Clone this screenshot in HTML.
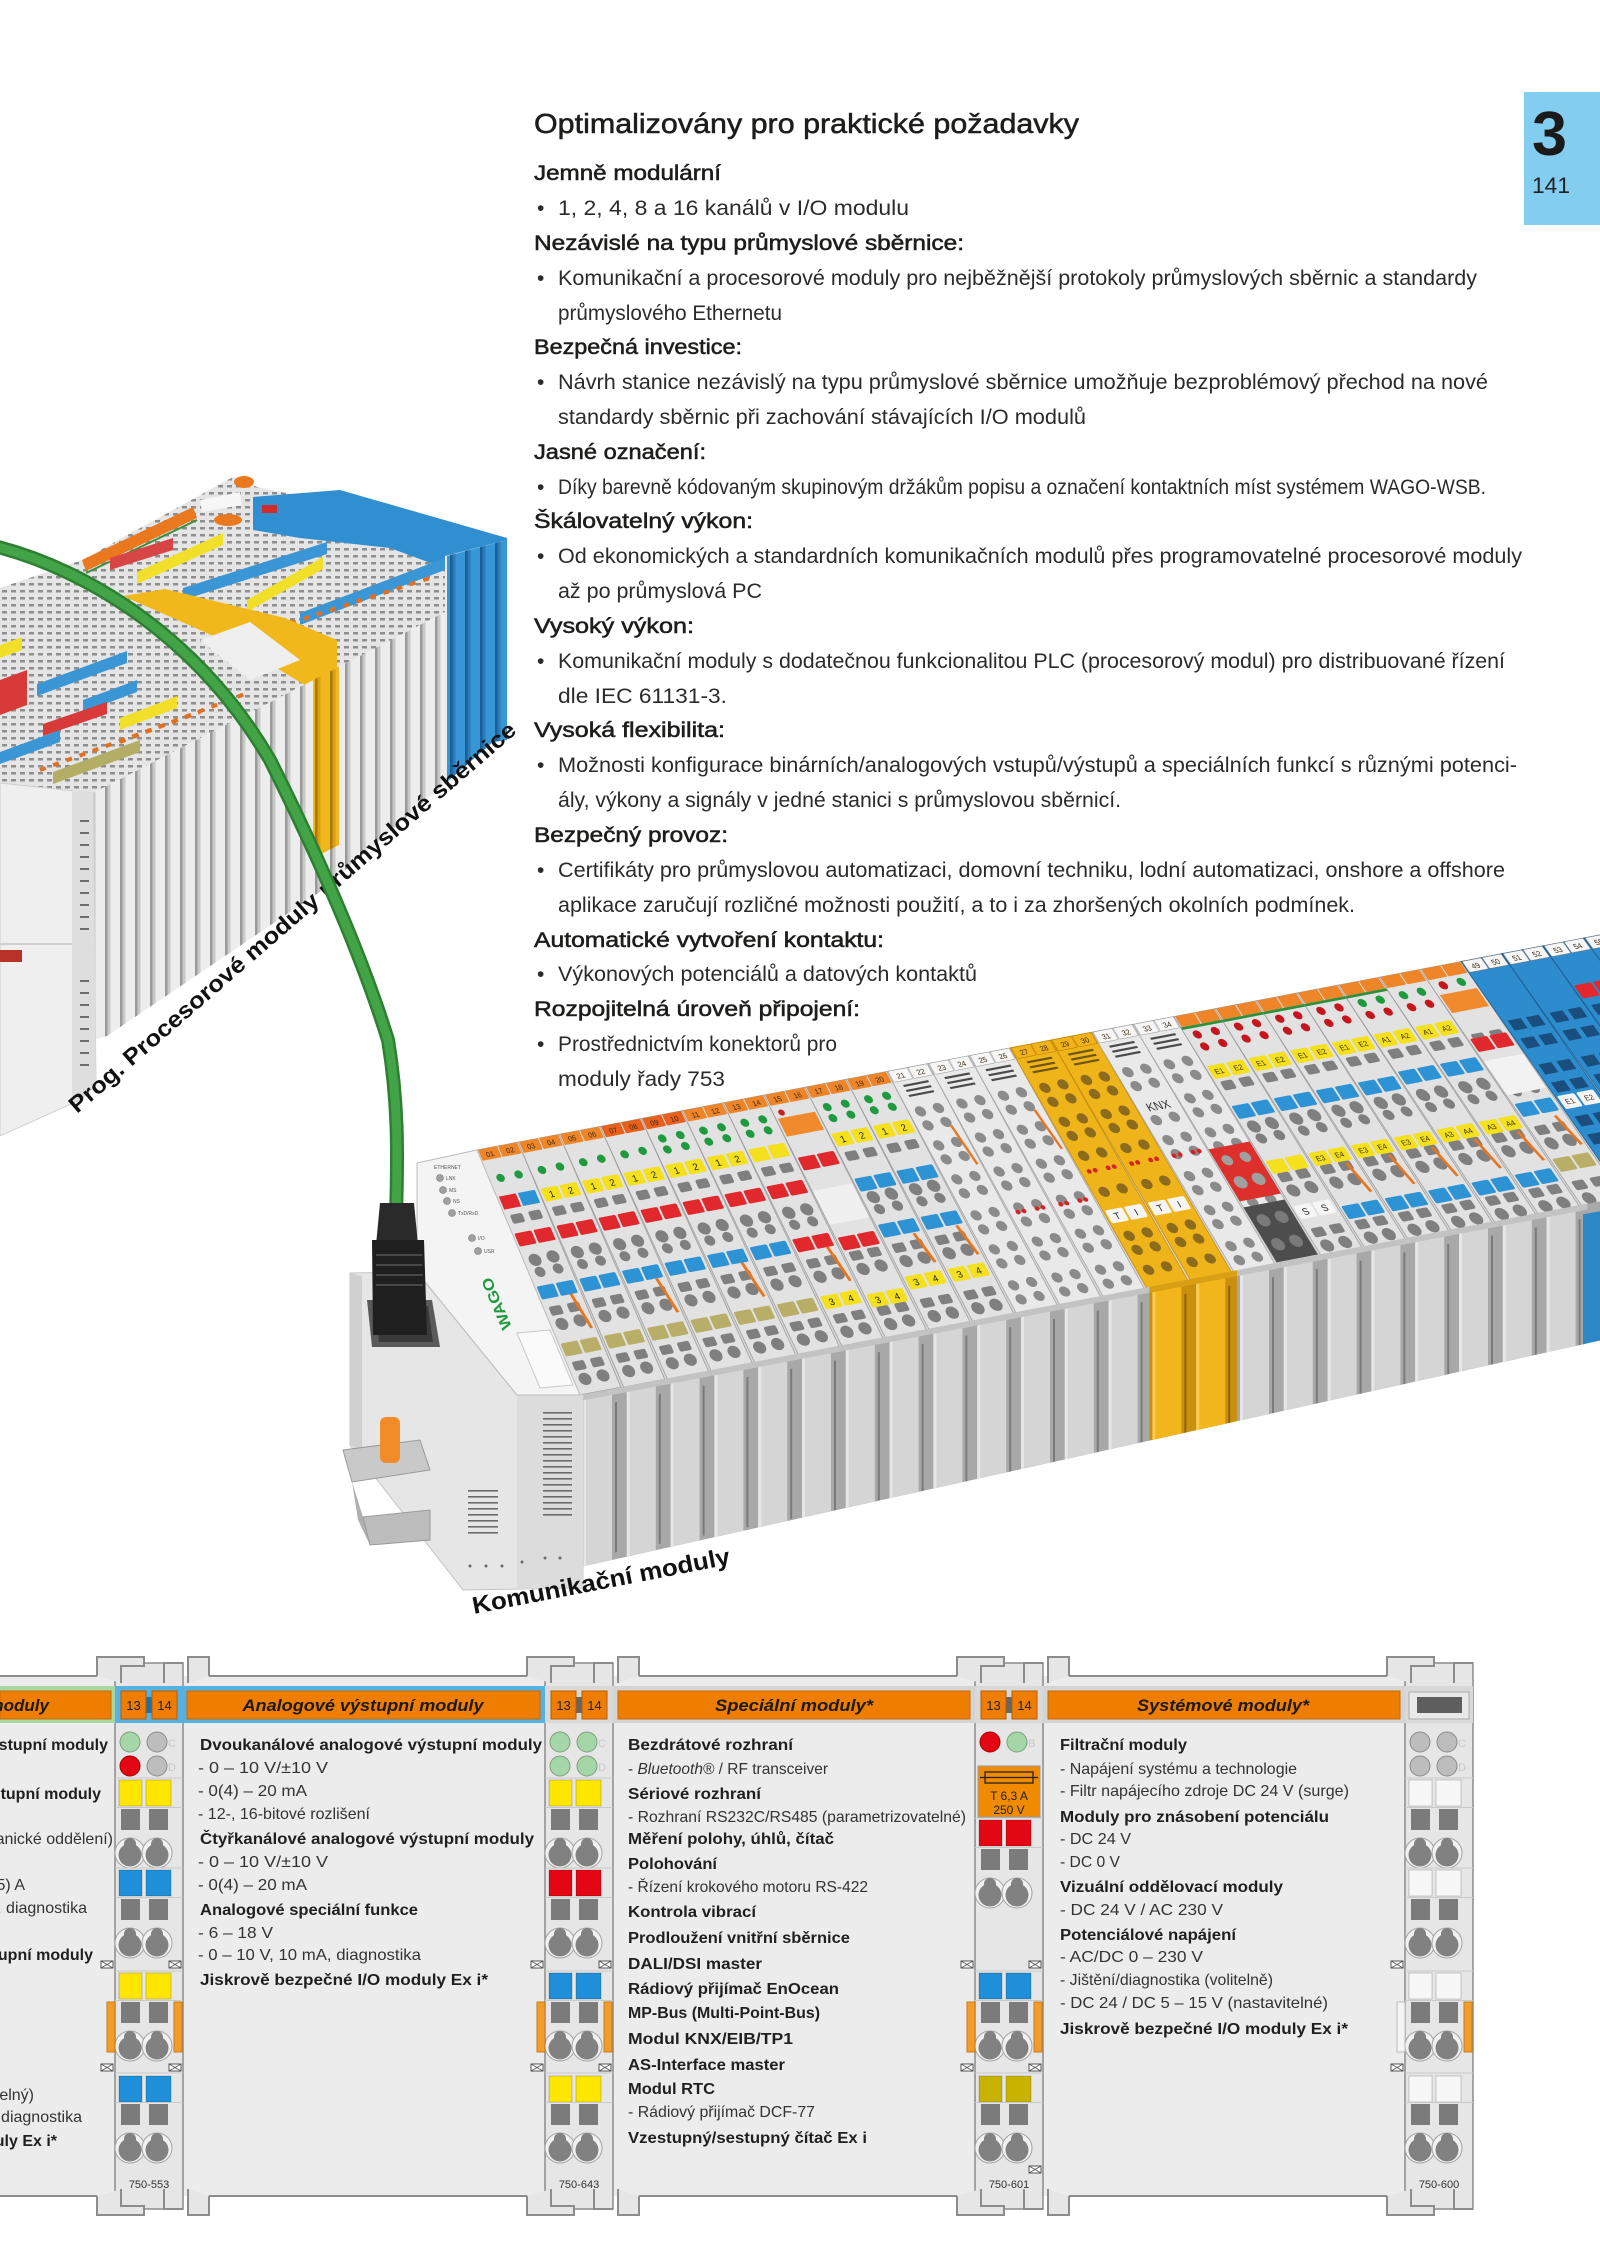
<!DOCTYPE html>
<html><head><meta charset="utf-8"><style>
html,body{margin:0;padding:0;background:#fff}
svg{display:block}
text{font-family:"Liberation Sans","DejaVu Sans",sans-serif}
.h{fill:#1d1d1b;stroke:#1d1d1b;stroke-width:.55}
.b{fill:#2b2b2b}
.lt{font-size:7px;text-anchor:middle;fill:#3a2a10}
.pt{font-size:9px;text-anchor:middle;fill:#222}
.ph{font-size:16px;font-weight:bold;fill:#1f1f1f}
.ps{font-size:16px;fill:#333}
.hd{font-size:17px;font-weight:bold;font-style:italic;fill:#1a1a1a}
.bx{font-size:13px;fill:#222;text-anchor:middle}
.ml{font-size:11px;fill:#333;text-anchor:middle}
.br{fill:#e6e6e6;stroke:#8c8c8c;stroke-width:2}
</style></head><body>
<svg xmlns="http://www.w3.org/2000/svg" width="1600" height="2263" viewBox="0 0 1600 2263">
<defs>
<pattern id="ldash" patternUnits="userSpaceOnUse" width="9" height="7"><rect width="9" height="7" fill="#e5e5e5"/><rect x="2" y="2" width="5" height="2.5" fill="#8e8e8e"/></pattern>
<pattern id="lrib" patternUnits="userSpaceOnUse" width="15" height="10"><rect width="15" height="10" fill="#ededed"/><rect width="2.5" height="10" fill="#9a9a9a"/><rect x="2.5" width="3" height="10" fill="#c9c9c9"/></pattern>
<pattern id="lribY" patternUnits="userSpaceOnUse" width="15" height="10"><rect width="15" height="10" fill="#f2b71c"/><rect width="2.5" height="10" fill="#a8780a"/><rect x="2.5" width="3" height="10" fill="#d89f12"/></pattern>
<pattern id="lribB" patternUnits="userSpaceOnUse" width="15" height="10"><rect width="15" height="10" fill="#3796d6"/><rect width="2.5" height="10" fill="#1b5f98"/><rect x="2.5" width="3" height="10" fill="#2a7bb8"/></pattern>

<g id="cA"><rect width="41" height="245" fill="#e2e2e2" stroke="#9e9e9e" stroke-width=".8"/><g fill="#7f7f7f"><rect x="5" y="66" width="12" height="9" rx="2"/><rect x="23" y="66" width="12" height="9" rx="2"/><circle cx="11" cy="112" r="6"/><circle cx="29" cy="112" r="6"/><circle cx="11" cy="124" r="5"/><circle cx="29" cy="124" r="5"/><rect x="5" y="158" width="12" height="9" rx="2"/><rect x="23" y="158" width="12" height="9" rx="2"/><circle cx="11" cy="176" r="6"/><circle cx="29" cy="176" r="6"/><rect x="5" y="213" width="12" height="9" rx="2"/><rect x="23" y="213" width="12" height="9" rx="2"/><circle cx="11" cy="231" r="6"/><circle cx="29" cy="231" r="6"/></g></g>
<g id="cG"><rect width="41" height="245" fill="#e9e9e9" stroke="#a6a6a6" stroke-width=".8"/><g fill="#4a4a4a"><rect x="8" y="15" width="25" height="2"/><rect x="8" y="20" width="25" height="2"/><rect x="8" y="25" width="25" height="2"/></g><g fill="#8b8b8b"><circle cx="11" cy="42" r="5"/><circle cx="29" cy="42" r="5"/><circle cx="11" cy="56" r="5"/><circle cx="29" cy="56" r="5"/><circle cx="11" cy="76" r="5"/><circle cx="29" cy="76" r="5"/><circle cx="11" cy="90" r="5"/><circle cx="29" cy="90" r="5"/><circle cx="11" cy="110" r="5"/><circle cx="29" cy="110" r="5"/><circle cx="11" cy="124" r="5"/><circle cx="29" cy="124" r="5"/><circle cx="11" cy="146" r="5"/><circle cx="29" cy="146" r="5"/><circle cx="11" cy="160" r="5"/><circle cx="29" cy="160" r="5"/><circle cx="11" cy="180" r="5"/><circle cx="29" cy="180" r="5"/><circle cx="11" cy="194" r="5"/><circle cx="29" cy="194" r="5"/><circle cx="11" cy="216" r="5"/><circle cx="29" cy="216" r="5"/><circle cx="11" cy="230" r="5"/><circle cx="29" cy="230" r="5"/></g></g>
<g id="cY"><rect width="41" height="245" fill="#f0b41b" stroke="#c48b0d" stroke-width=".8"/><g fill="#6e5410"><rect x="8" y="15" width="25" height="2"/><rect x="8" y="20" width="25" height="2"/><rect x="8" y="25" width="25" height="2"/></g><g fill="#8c6b1c"><circle cx="11" cy="42" r="5"/><circle cx="29" cy="42" r="5"/><circle cx="11" cy="56" r="5"/><circle cx="29" cy="56" r="5"/><circle cx="11" cy="76" r="5"/><circle cx="29" cy="76" r="5"/><circle cx="11" cy="90" r="5"/><circle cx="29" cy="90" r="5"/><circle cx="11" cy="110" r="5"/><circle cx="29" cy="110" r="5"/><circle cx="11" cy="146" r="5"/><circle cx="29" cy="146" r="5"/><circle cx="11" cy="190" r="5"/><circle cx="29" cy="190" r="5"/><circle cx="11" cy="204" r="5"/><circle cx="29" cy="204" r="5"/><circle cx="11" cy="224" r="5"/><circle cx="29" cy="224" r="5"/></g></g>
<g id="cB"><rect width="41" height="245" fill="#2d8ccd" stroke="#1a5b90" stroke-width=".8"/><g fill="#1a4e7e"><rect x="5" y="60" width="13" height="10"/><rect x="23" y="60" width="13" height="10"/><rect x="5" y="78" width="13" height="10"/><rect x="23" y="78" width="13" height="10"/><rect x="5" y="104" width="13" height="10"/><rect x="23" y="104" width="13" height="10"/><rect x="5" y="122" width="13" height="10"/><rect x="23" y="122" width="13" height="10"/><rect x="5" y="156" width="13" height="10"/><rect x="23" y="156" width="13" height="10"/><rect x="5" y="174" width="13" height="10"/><rect x="23" y="174" width="13" height="10"/><rect x="5" y="206" width="13" height="10"/><rect x="23" y="206" width="13" height="10"/><rect x="5" y="224" width="13" height="10"/><rect x="23" y="224" width="13" height="10"/></g></g>
<g id="lb"><rect x="1" y="0" width="19" height="11" rx="1"/><rect x="21" y="0" width="19" height="11" rx="1"/></g>
<g id="pr"><rect x="2" y="0" width="17" height="13" rx="1.5"/><rect x="21" y="0" width="17" height="13" rx="1.5"/></g>
<g id="l2"><circle cx="11" cy="0" r="4"/><circle cx="29" cy="0" r="4"/></g>
<g id="rd"><circle cx="8" cy="0" r="2.2"/><circle cx="14" cy="0" r="2.2"/><circle cx="27" cy="0" r="2.2"/><circle cx="33" cy="0" r="2.2"/></g>
<g id="rib"><rect width="43.8" height="180" fill="#a8a8a8"/><rect x="3" y="5" width="29" height="180" fill="#d5d5d5"/><rect x="3" y="5" width="3" height="180" fill="#e6e6e6"/><rect width="43.8" height="6" fill="#c3c3c3"/><rect x="35" y="14" width="2" height="150" fill="#7a7a7a"/></g>
<g id="ribY"><rect width="43.8" height="180" fill="#c8900e"/><rect x="3" y="5" width="29" height="180" fill="#f2b51c"/><rect x="3" y="5" width="3" height="180" fill="#f7cc55"/><rect width="43.8" height="6" fill="#d9a013"/><rect x="35" y="14" width="2" height="150" fill="#8a6208"/></g>
<clipPath id="ribclip"><polygon points="0,0 1030,0 1030,139 0,172"/></clipPath>

<g id="kh"><circle r="15" fill="#f1f1f1" stroke="#a3a3a3" stroke-width="1"/><circle cy="2" r="11.5" fill="#818181"/><circle cy="-9" r="6" fill="#818181"/><rect x="-6" y="-9" width="12" height="10" fill="#818181"/></g>
<g id="grp"><line x1="0" y1="-2" x2="68" y2="-2" stroke="#c9c9c9"/><line x1="0" y1="27.5" x2="68" y2="27.5" stroke="#c9c9c9"/><rect x="6" y="29" width="19" height="21" fill="#7b7b7b"/><rect x="34" y="29" width="19" height="21" fill="#7b7b7b"/><use href="#kh" x="15" y="73"/><use href="#kh" x="42" y="73"/></g>
<g id="cs"><rect x="4" y="0" width="23" height="26" stroke="#00000030"/><rect x="31" y="0" width="25" height="26" stroke="#00000030"/></g>
<g id="mk"><rect width="12" height="7" fill="#fff" stroke="#555" stroke-width="1"/><path d="M0,0 L12,7 M0,7 L12,0" stroke="#555" stroke-width=".8"/></g>
</defs>

<!-- ================= TOP TEXT ================= -->
<rect x="1524" y="92" width="76" height="133" fill="#83cdf0"/>
<text x="1532" y="155" font-size="62" font-weight="bold" fill="#1a1a1a" textLength="35" lengthAdjust="spacingAndGlyphs">3</text>
<text x="1532" y="193" font-size="22" fill="#222" textLength="38" lengthAdjust="spacingAndGlyphs">141</text>

<text class="h" x="534" y="133" font-size="28" textLength="545" lengthAdjust="spacingAndGlyphs">Optimalizovány pro praktické požadavky</text>
<g font-size="21">
<text class="h" x="534" y="180" textLength="187" lengthAdjust="spacingAndGlyphs">Jemně modulární</text>
<text class="b" x="537" y="215">•</text><text class="b" x="558" y="215" textLength="351" lengthAdjust="spacingAndGlyphs">1, 2, 4, 8 a 16 kanálů v I/O modulu</text>
<text class="h" x="534" y="250" textLength="430" lengthAdjust="spacingAndGlyphs">Nezávislé na typu průmyslové sběrnice:</text>
<text class="b" x="537" y="285">•</text><text class="b" x="558" y="285" textLength="919" lengthAdjust="spacingAndGlyphs">Komunikační a procesorové moduly pro nejběžnější protokoly průmyslových sběrnic a standardy</text>
<text class="b" x="558" y="320" textLength="224" lengthAdjust="spacingAndGlyphs">průmyslového Ethernetu</text>
<text class="h" x="534" y="354" textLength="208" lengthAdjust="spacingAndGlyphs">Bezpečná investice:</text>
<text class="b" x="537" y="389">•</text><text class="b" x="558" y="389" textLength="930" lengthAdjust="spacingAndGlyphs">Návrh stanice nezávislý na typu průmyslové sběrnice umožňuje bezproblémový přechod na nové</text>
<text class="b" x="558" y="424" textLength="528" lengthAdjust="spacingAndGlyphs">standardy sběrnic při zachování stávajících I/O modulů</text>
<text class="h" x="534" y="459" textLength="172" lengthAdjust="spacingAndGlyphs">Jasné označení:</text>
<text class="b" x="537" y="494">•</text><text class="b" x="558" y="494" textLength="928" lengthAdjust="spacingAndGlyphs">Díky barevně kódovaným skupinovým držákům popisu a označení kontaktních míst systémem WAGO-WSB.</text>
<text class="h" x="534" y="528" textLength="219" lengthAdjust="spacingAndGlyphs">Škálovatelný výkon:</text>
<text class="b" x="537" y="563">•</text><text class="b" x="558" y="563" textLength="964" lengthAdjust="spacingAndGlyphs">Od ekonomických a standardních komunikačních modulů přes programovatelné procesorové moduly</text>
<text class="b" x="558" y="598" textLength="204" lengthAdjust="spacingAndGlyphs">až po průmyslová PC</text>
<text class="h" x="534" y="633" textLength="160" lengthAdjust="spacingAndGlyphs">Vysoký výkon:</text>
<text class="b" x="537" y="668">•</text><text class="b" x="558" y="668" textLength="947" lengthAdjust="spacingAndGlyphs">Komunikační moduly s dodatečnou funkcionalitou PLC (procesorový modul) pro distribuované řízení</text>
<text class="b" x="558" y="703" textLength="169" lengthAdjust="spacingAndGlyphs">dle IEC 61131-3.</text>
<text class="h" x="534" y="737" textLength="191" lengthAdjust="spacingAndGlyphs">Vysoká flexibilita:</text>
<text class="b" x="537" y="772">•</text><text class="b" x="558" y="772" textLength="959" lengthAdjust="spacingAndGlyphs">Možnosti konfigurace binárních/analogových vstupů/výstupů a speciálních funkcí s různými potenci-</text>
<text class="b" x="558" y="807" textLength="563" lengthAdjust="spacingAndGlyphs">ály, výkony a signály v jedné stanici s průmyslovou sběrnicí.</text>
<text class="h" x="534" y="842" textLength="194" lengthAdjust="spacingAndGlyphs">Bezpečný provoz:</text>
<text class="b" x="537" y="877">•</text><text class="b" x="558" y="877" textLength="947" lengthAdjust="spacingAndGlyphs">Certifikáty pro průmyslovou automatizaci, domovní techniku, lodní automatizaci, onshore a offshore</text>
<text class="b" x="558" y="912" textLength="797" lengthAdjust="spacingAndGlyphs">aplikace zaručují rozličné možnosti použití, a to i za zhoršených okolních podmínek.</text>
<text class="h" x="534" y="947" textLength="350" lengthAdjust="spacingAndGlyphs">Automatické vytvoření kontaktu:</text>
<text class="b" x="537" y="981">•</text><text class="b" x="558" y="981" textLength="419" lengthAdjust="spacingAndGlyphs">Výkonových potenciálů a datových kontaktů</text>
<text class="h" x="534" y="1016" textLength="326" lengthAdjust="spacingAndGlyphs">Rozpojitelná úroveň připojení:</text>
<text class="b" x="537" y="1051">•</text><text class="b" x="558" y="1051" textLength="279" lengthAdjust="spacingAndGlyphs">Prostřednictvím konektorů pro</text>
<text class="b" x="558" y="1086" textLength="167" lengthAdjust="spacingAndGlyphs">moduly řady 753</text>
</g>

<!-- ================= LEFT PRODUCT ================= -->
<polygon points="0,588 82,560 233,477 257,487 507,538 507,546 445,560 445,612 333,670 93,793 0,783" fill="url(#ldash)"/>
<polygon points="82,560 193,507 197,518 86,571" fill="#e9781f"/>
<line x1="86" y1="573" x2="197" y2="520" stroke="#3d8c40" stroke-width="2"/>
<ellipse cx="244" cy="482" rx="10" ry="6" fill="#e9781f"/>
<ellipse cx="228" cy="520" rx="14" ry="6" fill="#e9781f"/>
<polygon points="200,500 240,492 242,505 202,512" fill="#f6f6f6"/>
<polygon points="253,497 340,490 507,538 507,552 455,572 390,548 300,538 253,530" fill="#2f8fd0"/>
<rect x="262" y="505" width="15" height="8" fill="#d02a2a"/>
<polygon points="110,558 173,538 173,550 110,570" fill="#d84545"/>
<polygon points="137,572 223,533 223,545 137,584" fill="#f2df2a"/>
<polygon points="183,588 327,542 327,554 183,600" fill="#3a96d5"/>
<polygon points="247,600 323,557 323,569 247,612" fill="#f2df2a"/>
<polygon points="300,613 445,558 445,570 300,625" fill="#3a96d5"/>
<line x1="250" y1="636" x2="430" y2="578" stroke="#e07020" stroke-width="4" stroke-dasharray="6 8"/>
<line x1="120" y1="742" x2="250" y2="692" stroke="#e07020" stroke-width="4" stroke-dasharray="6 8"/>
<line x1="40" y1="770" x2="200" y2="712" stroke="#e07020" stroke-width="4" stroke-dasharray="6 8"/>
<polygon points="123,596 165,589 285,618 337,640 337,692 313,690 255,655 200,630" fill="#f1b81b"/>
<polygon points="200,640 250,622 300,660 250,680" fill="#efefef"/>
<polygon points="37,684 127,651 127,663 37,696" fill="#3a96d5"/>
<polygon points="83,700 137,680 137,692 83,712" fill="#3a96d5"/>
<polygon points="43,724 107,702 107,714 43,736" fill="#d83a3a"/>
<polygon points="0,680 27,670 27,705 0,715" fill="#d83a3a"/>
<polygon points="120,718 177,696 177,708 120,730" fill="#f2df2a"/>
<polygon points="0,752 60,730 60,742 0,764" fill="#3a96d5"/>
<polygon points="53,772 140,740 140,752 53,784" fill="#b3ad66"/>
<polygon points="0,645 22,637 22,650 0,658" fill="#f2df2a"/>
<!-- ribs -->
<polygon points="93,793 333,670 445,612 445,556 507,540 507,740 493,742 321,891 107,1036 93,1040" fill="url(#lrib)"/>
<polygon points="313,680 339,667 339,845 313,858" fill="url(#lribY)"/>
<polygon points="447,556 507,540 507,740 493,742 447,782" fill="url(#lribB)"/>
<!-- housing -->
<polygon points="0,783 93,793 96,1085 80,1100 0,1136" fill="#efefef" stroke="#cfcfcf"/>
<polygon points="72,790 93,793 96,1085 80,1100 72,1102" fill="#dedede"/>
<g fill="#6d6d6d"><rect x="80" y="820" width="9" height="2"/><rect x="80" y="832" width="9" height="2"/><rect x="80" y="844" width="9" height="2"/><rect x="80" y="856" width="9" height="2"/><rect x="80" y="868" width="9" height="2"/><rect x="80" y="880" width="9" height="2"/><rect x="80" y="892" width="9" height="2"/><rect x="80" y="904" width="9" height="2"/><rect x="80" y="916" width="9" height="2"/><rect x="80" y="928" width="9" height="2"/><rect x="80" y="980" width="9" height="2"/><rect x="80" y="992" width="9" height="2"/><rect x="80" y="1004" width="9" height="2"/><rect x="80" y="1016" width="9" height="2"/><rect x="80" y="1028" width="9" height="2"/><rect x="80" y="1040" width="9" height="2"/><rect x="80" y="1052" width="9" height="2"/><rect x="80" y="1064" width="9" height="2"/></g>
<line x1="0" y1="944" x2="72" y2="944" stroke="#cfcfcf" stroke-width="2"/>
<rect x="0" y="950" width="22" height="12" fill="#b8322a"/>

<text transform="translate(77,1114) rotate(-40.9)" font-size="23" font-weight="bold" fill="#111" textLength="583" lengthAdjust="spacingAndGlyphs">Prog. Procesorové moduly průmyslové sběrnice</text>

<!-- ================= MAIN PRODUCT ================= -->
<polygon points="477,1150 1600,935 1600,1215 580,1395" fill="#d6d6d6"/>

<g transform="matrix(1,-0.1915,0.42,1,477,1150)"><use href="#cA"/><use href="#lb" fill="#ee8529"/><text class="lt" x="10.5" y="8.5">01</text><text class="lt" x="30.5" y="8.5">02</text><use href="#l2" y="30" fill="#1f9a3f"/><rect x="2" y="47" width="17" height="13" fill="#e0282d"/><rect x="21" y="47" width="17" height="13" fill="#2d93d4"/><use href="#pr" y="84" fill="#e0282d"/><use href="#pr" y="137" fill="#2d93d4"/><use href="#pr" y="194" fill="#b8ae67"/><line x1="31" y1="150" x2="37" y2="185" stroke="#e8761e" stroke-width="3"/></g>
<g transform="matrix(1,-0.1915,0.4315,1,518,1142.15)"><use href="#cA"/><use href="#lb" fill="#ee8529"/><text class="lt" x="10.5" y="8.5">03</text><text class="lt" x="30.5" y="8.5">04</text><use href="#l2" y="30" fill="#1f9a3f"/><use href="#pr" y="47" fill="#f4e01c"/><text class="pt" x="10.5" y="57">1</text><text class="pt" x="29.5" y="57">2</text><use href="#pr" y="84" fill="#e0282d"/><use href="#pr" y="137" fill="#2d93d4"/><use href="#pr" y="194" fill="#b8ae67"/></g>
<g transform="matrix(1,-0.1915,0.443,1,559,1134.3)"><use href="#cA"/><use href="#lb" fill="#ee8529"/><text class="lt" x="10.5" y="8.5">05</text><text class="lt" x="30.5" y="8.5">06</text><use href="#l2" y="30" fill="#1f9a3f"/><use href="#pr" y="47" fill="#f4e01c"/><text class="pt" x="10.5" y="57">1</text><text class="pt" x="29.5" y="57">2</text><use href="#pr" y="84" fill="#e0282d"/><use href="#pr" y="137" fill="#2d93d4"/><use href="#pr" y="194" fill="#b8ae67"/><line x1="31" y1="150" x2="37" y2="185" stroke="#e8761e" stroke-width="3"/></g>
<g transform="matrix(1,-0.1915,0.4545,1,600,1126.45)"><use href="#cA"/><use href="#lb" fill="#e8601e"/><text class="lt" x="10.5" y="8.5">07</text><text class="lt" x="30.5" y="8.5">08</text><use href="#l2" y="30" fill="#1f9a3f"/><use href="#pr" y="47" fill="#f4e01c"/><text class="pt" x="10.5" y="57">1</text><text class="pt" x="29.5" y="57">2</text><use href="#pr" y="84" fill="#e0282d"/><use href="#pr" y="137" fill="#2d93d4"/><use href="#pr" y="194" fill="#b8ae67"/></g>
<g transform="matrix(1,-0.1915,0.466,1,641,1118.6)"><use href="#cA"/><use href="#lb" fill="#e8601e"/><text class="lt" x="10.5" y="8.5">09</text><text class="lt" x="30.5" y="8.5">10</text><use href="#l2" y="22" fill="#1f9a3f"/><use href="#l2" y="33" fill="#1f9a3f"/><use href="#pr" y="47" fill="#f4e01c"/><text class="pt" x="10.5" y="57">1</text><text class="pt" x="29.5" y="57">2</text><use href="#pr" y="84" fill="#e0282d"/><use href="#pr" y="137" fill="#2d93d4"/><use href="#pr" y="194" fill="#b8ae67"/><line x1="31" y1="150" x2="37" y2="185" stroke="#e8761e" stroke-width="3"/></g>
<g transform="matrix(1,-0.1915,0.4775,1,682,1110.75)"><use href="#cA"/><use href="#lb" fill="#ee8529"/><text class="lt" x="10.5" y="8.5">11</text><text class="lt" x="30.5" y="8.5">12</text><use href="#l2" y="22" fill="#1f9a3f"/><use href="#l2" y="33" fill="#1f9a3f"/><use href="#pr" y="47" fill="#f4e01c"/><text class="pt" x="10.5" y="57">1</text><text class="pt" x="29.5" y="57">2</text><use href="#pr" y="84" fill="#e0282d"/><use href="#pr" y="137" fill="#2d93d4"/><use href="#pr" y="194" fill="#b8ae67"/></g>
<g transform="matrix(1,-0.1915,0.489,1,723,1102.9)"><use href="#cA"/><use href="#lb" fill="#ee8529"/><text class="lt" x="10.5" y="8.5">13</text><text class="lt" x="30.5" y="8.5">14</text><use href="#l2" y="22" fill="#1f9a3f"/><use href="#l2" y="33" fill="#1f9a3f"/><use href="#pr" y="47" fill="#f4e01c"/><use href="#pr" y="84" fill="#e0282d"/><use href="#pr" y="137" fill="#e0282d"/><use href="#pr" y="194" fill="#f4e01c"/><text class="pt" x="10.5" y="204">3</text><text class="pt" x="29.5" y="204">4</text><line x1="31" y1="150" x2="37" y2="185" stroke="#e8761e" stroke-width="3"/></g>
<g transform="matrix(1,-0.1915,0.5005,1,764,1095.05)"><use href="#cA"/><use href="#lb" fill="#ee8529"/><text class="lt" x="10.5" y="8.5">15</text><text class="lt" x="30.5" y="8.5">16</text><rect x="2" y="24" width="37" height="18" fill="#f08a2c"/><circle cx="8" cy="19" r="3" fill="#c81e1e"/><use href="#pr" y="63" fill="#e0282d"/><rect x="1" y="96" width="39" height="34" fill="#f0f0f0"/><use href="#pr" y="143" fill="#e0282d"/><use href="#pr" y="200" fill="#f4e01c"/><text class="pt" x="10.5" y="210">3</text><text class="pt" x="29.5" y="210">4</text></g>
<g transform="matrix(1,-0.1915,0.512,1,805,1087.2)"><use href="#cA"/><use href="#lb" fill="#ee8529"/><text class="lt" x="10.5" y="8.5">17</text><text class="lt" x="30.5" y="8.5">18</text><use href="#l2" y="22" fill="#1f9a3f"/><use href="#l2" y="33" fill="#1f9a3f"/><use href="#pr" y="47" fill="#f4e01c"/><text class="pt" x="10.5" y="57">1</text><text class="pt" x="29.5" y="57">2</text><use href="#pr" y="92" fill="#2d93d4"/><use href="#pr" y="138" fill="#2d93d4"/><use href="#pr" y="190" fill="#f4e01c"/><text class="pt" x="10.5" y="200">3</text><text class="pt" x="29.5" y="200">4</text><line x1="31" y1="152" x2="37" y2="182" stroke="#e8761e" stroke-width="3"/></g>
<g transform="matrix(1,-0.1915,0.5235,1,846,1079.35)"><use href="#cA"/><use href="#lb" fill="#ee8529"/><text class="lt" x="10.5" y="8.5">19</text><text class="lt" x="30.5" y="8.5">20</text><use href="#l2" y="22" fill="#1f9a3f"/><use href="#l2" y="33" fill="#1f9a3f"/><use href="#pr" y="47" fill="#f4e01c"/><text class="pt" x="10.5" y="57">1</text><text class="pt" x="29.5" y="57">2</text><use href="#pr" y="92" fill="#2d93d4"/><use href="#pr" y="138" fill="#2d93d4"/><use href="#pr" y="190" fill="#f4e01c"/><text class="pt" x="10.5" y="200">3</text><text class="pt" x="29.5" y="200">4</text><line x1="31" y1="152" x2="37" y2="182" stroke="#e8761e" stroke-width="3"/></g>
<g transform="matrix(1,-0.1915,0.535,1,887,1071.5)"><use href="#cG"/><use href="#lb" fill="#f6f6f6" stroke="#999" stroke-width=".5"/><text class="lt" x="10.5" y="8.5">21</text><text class="lt" x="30.5" y="8.5">22</text><line x1="32" y1="60" x2="37" y2="100" stroke="#e8761e" stroke-width="2.5"/></g>
<g transform="matrix(1,-0.1915,0.5465,1,928,1063.65)"><use href="#cG"/><use href="#lb" fill="#f6f6f6" stroke="#999" stroke-width=".5"/><text class="lt" x="10.5" y="8.5">23</text><text class="lt" x="30.5" y="8.5">24</text><use href="#rd" y="150" fill="#d62222"/></g>
<g transform="matrix(1,-0.1915,0.558,1,969,1055.8)"><use href="#cG"/><use href="#lb" fill="#f6f6f6" stroke="#999" stroke-width=".5"/><text class="lt" x="10.5" y="8.5">25</text><text class="lt" x="30.5" y="8.5">26</text><use href="#rd" y="150" fill="#d62222"/><line x1="32" y1="60" x2="37" y2="100" stroke="#e8761e" stroke-width="2.5"/></g>
<g transform="matrix(1,-0.1915,0.5695,1,1010,1047.95)"><use href="#cY"/><use href="#lb" fill="#f2b21a" stroke="#b07a00" stroke-width=".5"/><text class="lt" x="10.5" y="8.5">27</text><text class="lt" x="30.5" y="8.5">28</text><use href="#rd" y="125" fill="#d62222"/><use href="#pr" y="163" fill="#f6f6f6"/><text class="pt" x="10.5" y="173">T</text><text class="pt" x="29.5" y="173">I</text></g>
<g transform="matrix(1,-0.1915,0.581,1,1051,1040.1)"><use href="#cY"/><use href="#lb" fill="#f2b21a" stroke="#b07a00" stroke-width=".5"/><text class="lt" x="10.5" y="8.5">29</text><text class="lt" x="30.5" y="8.5">30</text><use href="#rd" y="125" fill="#d62222"/><use href="#pr" y="163" fill="#f6f6f6"/><text class="pt" x="10.5" y="173">T</text><text class="pt" x="29.5" y="173">I</text></g>
<g transform="matrix(1,-0.1915,0.5925,1,1092,1032.25)"><use href="#cG"/><use href="#lb" fill="#f6f6f6" stroke="#999" stroke-width=".5"/><text class="lt" x="10.5" y="8.5">31</text><text class="lt" x="30.5" y="8.5">32</text><rect x="4" y="68" width="33" height="16" fill="#e9e9e9"/><text x="20.5" y="81" font-size="11" text-anchor="middle" fill="#333">KNX</text><use href="#rd" y="125" fill="#d62222"/></g>
<g transform="matrix(1,-0.1915,0.604,1,1133,1024.4)"><use href="#cG"/><use href="#lb" fill="#f6f6f6" stroke="#999" stroke-width=".5"/><text class="lt" x="10.5" y="8.5">33</text><text class="lt" x="30.5" y="8.5">34</text><rect x="0" y="125" width="41" height="52" fill="#dd2f2c"/><g fill="#a0a0a0"><circle cx="11" cy="138" r="5"/><circle cx="29" cy="138" r="5"/><circle cx="11" cy="160" r="6"/><circle cx="29" cy="160" r="6"/></g><rect x="0" y="183" width="41" height="55" fill="#4d4d4d"/><g fill="#7a7a7a"><circle cx="11" cy="198" r="6"/><circle cx="29" cy="198" r="6"/><circle cx="11" cy="222" r="6"/><circle cx="29" cy="222" r="6"/></g></g>
<g transform="matrix(1,-0.1915,0.6155,1,1174,1016.55)"><use href="#cA"/><use href="#lb" fill="#ee8529"/><rect x="0" y="11" width="41" height="2.5" fill="#2f8f3c"/><use href="#l2" y="20" fill="#c4161c"/><use href="#l2" y="32" fill="#c4161c"/><use href="#pr" y="50" fill="#f4e01c"/><text class="lt" x="10.5" y="59">E1</text><text class="lt" x="29.5" y="59">E2</text><use href="#pr" y="90" fill="#2d93d4"/><use href="#pr" y="145" fill="#f4e01c"/><use href="#pr" y="190" fill="#f6f6f6"/><text class="pt" x="10.5" y="200">S</text><text class="pt" x="29.5" y="200">S</text></g>
<g transform="matrix(1,-0.1915,0.627,1,1215,1008.7)"><use href="#cA"/><use href="#lb" fill="#ee8529"/><rect x="0" y="11" width="41" height="2.5" fill="#2f8f3c"/><use href="#l2" y="20" fill="#c4161c"/><use href="#l2" y="32" fill="#c4161c"/><use href="#pr" y="50" fill="#f4e01c"/><text class="lt" x="10.5" y="59">E1</text><text class="lt" x="29.5" y="59">E2</text><use href="#pr" y="90" fill="#2d93d4"/><use href="#pr" y="145" fill="#f4e01c"/><text class="lt" x="10.5" y="154">E3</text><text class="lt" x="29.5" y="154">E4</text><use href="#pr" y="198" fill="#2d93d4"/><line x1="31" y1="160" x2="37" y2="190" stroke="#e8761e" stroke-width="3"/></g>
<g transform="matrix(1,-0.1915,0.6385,1,1256,1000.85)"><use href="#cA"/><use href="#lb" fill="#ee8529"/><rect x="0" y="11" width="41" height="2.5" fill="#2f8f3c"/><use href="#l2" y="20" fill="#c4161c"/><use href="#l2" y="32" fill="#c4161c"/><use href="#pr" y="50" fill="#f4e01c"/><text class="lt" x="10.5" y="59">E1</text><text class="lt" x="29.5" y="59">E2</text><use href="#pr" y="90" fill="#2d93d4"/><use href="#pr" y="145" fill="#f4e01c"/><text class="lt" x="10.5" y="154">E3</text><text class="lt" x="29.5" y="154">E4</text><use href="#pr" y="198" fill="#2d93d4"/><line x1="31" y1="160" x2="37" y2="190" stroke="#e8761e" stroke-width="3"/></g>
<g transform="matrix(1,-0.1915,0.65,1,1297,993)"><use href="#cA"/><use href="#lb" fill="#ee8529"/><rect x="0" y="11" width="41" height="2.5" fill="#2f8f3c"/><use href="#l2" y="20" fill="#c4161c"/><use href="#l2" y="32" fill="#c4161c"/><use href="#pr" y="50" fill="#f4e01c"/><text class="lt" x="10.5" y="59">E1</text><text class="lt" x="29.5" y="59">E2</text><use href="#pr" y="90" fill="#2d93d4"/><use href="#pr" y="145" fill="#f4e01c"/><text class="lt" x="10.5" y="154">E3</text><text class="lt" x="29.5" y="154">E4</text><use href="#pr" y="198" fill="#2d93d4"/><line x1="31" y1="160" x2="37" y2="190" stroke="#e8761e" stroke-width="3"/></g>
<g transform="matrix(1,-0.1915,0.6615,1,1338,985.15)"><use href="#cA"/><use href="#lb" fill="#ee8529"/><rect x="0" y="11" width="41" height="2.5" fill="#2f8f3c"/><use href="#l2" y="20" fill="#1f9a3f"/><use href="#l2" y="32" fill="#c4161c"/><use href="#pr" y="50" fill="#f4e01c"/><text class="lt" x="10.5" y="59">A1</text><text class="lt" x="29.5" y="59">A2</text><use href="#pr" y="87" fill="#2d93d4"/><use href="#pr" y="145" fill="#f4e01c"/><text class="lt" x="10.5" y="154">A3</text><text class="lt" x="29.5" y="154">A4</text><use href="#pr" y="198" fill="#2d93d4"/><line x1="31" y1="160" x2="37" y2="190" stroke="#e8761e" stroke-width="3"/></g>
<g transform="matrix(1,-0.1915,0.673,1,1379,977.3)"><use href="#cA"/><use href="#lb" fill="#ee8529"/><use href="#l2" y="20" fill="#1f9a3f"/><use href="#l2" y="32" fill="#c4161c"/><use href="#pr" y="50" fill="#f4e01c"/><text class="lt" x="10.5" y="59">A1</text><text class="lt" x="29.5" y="59">A2</text><use href="#pr" y="87" fill="#2d93d4"/><use href="#pr" y="145" fill="#f4e01c"/><text class="lt" x="10.5" y="154">A3</text><text class="lt" x="29.5" y="154">A4</text><use href="#pr" y="198" fill="#2d93d4"/><line x1="31" y1="160" x2="37" y2="190" stroke="#e8761e" stroke-width="3"/></g>
<g transform="matrix(1,-0.1915,0.6845,1,1420,969.45)"><use href="#cA"/><use href="#lb" fill="#ee8529"/><circle cx="11" cy="18" r="4" fill="#c4161c"/><circle cx="29" cy="18" r="4" fill="#1f9a3f"/><rect x="2" y="26" width="37" height="18" fill="#f08a2c"/><use href="#pr" y="70" fill="#e0282d"/><rect x="1" y="92" width="39" height="34" fill="#f2f2f2"/><use href="#pr" y="135" fill="#2d93d4"/><use href="#pr" y="190" fill="#b8ae67"/><line x1="31" y1="152" x2="37" y2="182" stroke="#e8761e" stroke-width="3"/></g>
<g transform="matrix(1,-0.1915,0.696,1,1461,961.6)"><use href="#cB"/><use href="#lb" fill="#f6f6f6" stroke="#777" stroke-width=".5"/><text class="lt" x="10.5" y="8.5">49</text><text class="lt" x="30.5" y="8.5">50</text><use href="#pr" y="135" fill="#f6f6f6"/><text class="lt" x="10.5" y="144">E1</text><text class="lt" x="29.5" y="144">E2</text></g>
<g transform="matrix(1,-0.1915,0.7075,1,1502,953.75)"><use href="#cB"/><use href="#lb" fill="#f6f6f6" stroke="#777" stroke-width=".5"/><text class="lt" x="10.5" y="8.5">51</text><text class="lt" x="30.5" y="8.5">52</text></g>
<g transform="matrix(1,-0.1915,0.719,1,1543,945.9)"><use href="#cB"/><use href="#lb" fill="#f6f6f6" stroke="#777" stroke-width=".5"/><text class="lt" x="10.5" y="8.5">53</text><text class="lt" x="30.5" y="8.5">54</text><use href="#pr" y="40" fill="#e0282d"/></g>
<g transform="matrix(1,-0.1915,0.7305,1,1584,938.05)"><use href="#cB"/><use href="#lb" fill="#f6f6f6" stroke="#777" stroke-width=".5"/><text class="lt" x="10.5" y="8.5">55</text><text class="lt" x="30.5" y="8.5">56</text><use href="#pr" y="40" fill="#e0282d"/></g>

<!-- ribs -->
<g transform="matrix(1,-0.19,0,1,580,1395)"><g clip-path="url(#ribclip)">
<polygon points="0,0 1030,0 1030,139 0,172" fill="#a9a9a9"/>
<use href="#rib" x="0"/><use href="#rib" x="43.8"/><use href="#rib" x="87.6"/><use href="#rib" x="131.4"/><use href="#rib" x="175.2"/><use href="#rib" x="219"/><use href="#rib" x="262.8"/><use href="#rib" x="306.6"/><use href="#rib" x="350.4"/><use href="#rib" x="394.2"/><use href="#rib" x="438"/><use href="#rib" x="481.8"/><use href="#rib" x="525.6"/><use href="#ribY" x="569.4"/><use href="#ribY" x="613.2"/><use href="#rib" x="657"/><use href="#rib" x="700.8"/><use href="#rib" x="744.6"/><use href="#rib" x="788.4"/><use href="#rib" x="832.2"/><use href="#rib" x="876"/><use href="#rib" x="919.8"/><use href="#rib" x="963.6"/>
<rect x="1003" y="10" width="40" height="140" fill="#2b87c6"/>
</g></g>

<!-- coupler -->
<polygon points="350,1273 417,1272 517,1395 583,1395 583,1588 463,1590 350,1445" fill="#e6e6e6" stroke="#c4c4c4"/>
<polygon points="350,1273 362,1276 362,1450 350,1445" fill="#d0d0d0"/>
<polygon points="517,1395 583,1395 583,1588 517,1589" fill="#dcdcdc"/>
<g fill="#6a6a6a"><rect x="543" y="1412" width="29" height="1.6"/><rect x="543" y="1418" width="29" height="1.6"/><rect x="543" y="1424" width="29" height="1.6"/><rect x="543" y="1430" width="29" height="1.6"/><rect x="543" y="1436" width="29" height="1.6"/><rect x="543" y="1442" width="29" height="1.6"/><rect x="543" y="1448" width="29" height="1.6"/><rect x="543" y="1454" width="29" height="1.6"/><rect x="543" y="1460" width="29" height="1.6"/><rect x="543" y="1466" width="29" height="1.6"/><rect x="543" y="1472" width="29" height="1.6"/><rect x="543" y="1478" width="29" height="1.6"/><rect x="543" y="1484" width="29" height="1.6"/><rect x="543" y="1490" width="29" height="1.6"/><rect x="543" y="1496" width="29" height="1.6"/><rect x="543" y="1502" width="29" height="1.6"/><rect x="543" y="1508" width="29" height="1.6"/><rect x="543" y="1514" width="29" height="1.6"/><rect x="468" y="1490" width="30" height="1.6"/><rect x="468" y="1496" width="30" height="1.6"/><rect x="468" y="1502" width="30" height="1.6"/><rect x="468" y="1508" width="30" height="1.6"/><rect x="468" y="1514" width="30" height="1.6"/><rect x="468" y="1520" width="30" height="1.6"/><rect x="468" y="1526" width="30" height="1.6"/><rect x="468" y="1532" width="30" height="1.6"/><circle cx="470" cy="1566" r="1.5"/><circle cx="486" cy="1566" r="1.5"/><circle cx="502" cy="1566" r="1.5"/><circle cx="522" cy="1562" r="1.5"/><circle cx="545" cy="1558" r="1.5"/><circle cx="560" cy="1558" r="1.5"/></g>
<polygon points="417,1163 477,1150 580,1395 517,1395 417,1272" fill="#f4f4f4" stroke="#bdbdbd"/>
<g fill="#a0a0a0" stroke="#777" stroke-width=".6"><circle cx="440" cy="1178" r="3.5"/><circle cx="443" cy="1190" r="3.5"/><circle cx="447" cy="1201" r="3.5"/><circle cx="452" cy="1213" r="3.5"/><circle cx="472" cy="1238" r="3.5"/><circle cx="478" cy="1251" r="3.5"/></g>
<g font-size="5" fill="#555"><text x="434" y="1169">ETHERNET</text><text x="446" y="1180">LNK</text><text x="449" y="1192">MS</text><text x="453" y="1203">NS</text><text x="458" y="1215">TxD/RxD</text><text x="478" y="1240">I/O</text><text x="484" y="1253">USR</text></g>
<text transform="translate(512,1327) rotate(-112.8)" font-size="15" font-weight="bold" fill="#1f9a3f" textLength="55" lengthAdjust="spacingAndGlyphs">WAGO</text>
<polygon points="517,1333 550,1330 573,1385 540,1388" fill="#fafafa" stroke="#c8c8c8"/>
<polygon points="367,1300 432,1300 440,1347 372,1347" fill="#5a5a5a"/>
<polygon points="375,1306 428,1306 433,1342 379,1342" fill="#3a3a3a"/>
<polygon points="343,1450 420,1440 430,1470 352,1482" fill="#c9c9c9" stroke="#999"/>
<polygon points="352,1482 363,1517 370,1545 358,1520" fill="#b0b0b0"/>
<polygon points="363,1517 430,1510 430,1540 370,1545" fill="#bdbdbd" stroke="#999"/>
<rect x="380" y="1417" width="20" height="46" rx="6" fill="#f28c28"/>

<!-- cable & plug -->
<path d="M-6,546 C90,570 200,640 270,760 C315,850 360,950 388,1040 C398,1100 398,1150 396,1215" stroke="#2d7f32" stroke-width="14" fill="none"/>
<path d="M-6,546 C90,570 200,640 270,760 C315,850 360,950 388,1040 C398,1100 398,1150 396,1215" stroke="#43a447" stroke-width="9" fill="none"/>
<polygon points="380,1203 414,1203 418,1245 376,1245" fill="#2a2a2a"/>
<polygon points="372,1240 424,1240 427,1335 373,1335" fill="#1f1f1f"/>
<g stroke="#474747" stroke-width="2"><line x1="376" y1="1255" x2="422" y2="1255"/><line x1="376" y1="1265" x2="422" y2="1265"/><line x1="376" y1="1275" x2="423" y2="1275"/><line x1="376" y1="1285" x2="423" y2="1285"/></g>

<text transform="translate(474,1614) rotate(-11)" font-size="24" font-weight="bold" fill="#111" textLength="262" lengthAdjust="spacingAndGlyphs">Komunikační moduly</text>

<!-- ================= BOTTOM DIAGRAM ================= -->
<g fill="#ececec"><rect x="0" y="1676" width="115" height="520"/><rect x="183" y="1676" width="362" height="520"/><rect x="613" y="1676" width="362" height="520"/><rect x="1043" y="1676" width="362" height="520"/></g>
<g stroke="#8c8c8c" stroke-width="2"><line x1="0" y1="1676" x2="97" y2="1676"/><line x1="0" y1="2196" x2="97" y2="2196"/><line x1="209" y1="1676" x2="527" y2="1676"/><line x1="209" y1="2196" x2="527" y2="2196"/><line x1="639" y1="1676" x2="957" y2="1676"/><line x1="639" y1="2196" x2="957" y2="2196"/><line x1="1069" y1="1676" x2="1387" y2="1676"/><line x1="1069" y1="2196" x2="1387" y2="2196"/></g>
<g fill="#e6e6e6" stroke="#8c8c8c" stroke-width="1.5"><rect x="115" y="1663" width="68" height="546"/><rect x="545" y="1663" width="68" height="546"/><rect x="975" y="1663" width="68" height="546"/><rect x="1405" y="1663" width="68" height="546"/></g>
<!-- brackets -->
<g class="br">
<path d="M97,1676 V1657 H144 V1666 H121 V1683"/><path d="M164,1683 V1663 H183"/><path d="M188,1683 V1657 H209 V1676"/>
<path d="M97,2196 V2215 H144 V2206 H121 V2189"/><path d="M164,2189 V2209 H183"/><path d="M188,2189 V2215 H209 V2196"/>
<path d="M527,1676 V1657 H574 V1666 H551 V1683"/><path d="M594,1683 V1663 H613"/><path d="M618,1683 V1657 H639 V1676"/>
<path d="M527,2196 V2215 H574 V2206 H551 V2189"/><path d="M594,2189 V2209 H613"/><path d="M618,2189 V2215 H639 V2196"/>
<path d="M957,1676 V1657 H1004 V1666 H981 V1683"/><path d="M1024,1683 V1663 H1043"/><path d="M1048,1683 V1657 H1069 V1676"/>
<path d="M957,2196 V2215 H1004 V2206 H981 V2189"/><path d="M1024,2189 V2209 H1043"/><path d="M1048,2189 V2215 H1069 V2196"/>
<path d="M1387,1676 V1657 H1434 V1666 H1411 V1683"/><path d="M1454,1683 V1663 H1473"/>
<path d="M1387,2196 V2215 H1434 V2206 H1411 V2189"/><path d="M1454,2189 V2209 H1473"/>
</g>
<!-- headers -->
<rect x="0" y="1686" width="115" height="37" fill="#a9d7a4"/><rect x="0" y="1691" width="111" height="28" fill="#ef7d00" stroke="#c86a00"/>
<rect x="115" y="1686" width="68" height="37" fill="#56b1e3"/><rect x="183" y="1686" width="362" height="37" fill="#56b1e3"/><rect x="187" y="1691" width="353" height="28" fill="#ef7d00" stroke="#c86a00"/>
<rect x="545" y="1686" width="68" height="37" fill="#d9d9d9"/><rect x="613" y="1686" width="362" height="37" fill="#d4d4d4"/><rect x="618" y="1691" width="352" height="28" fill="#ef7d00" stroke="#c86a00"/>
<rect x="975" y="1686" width="68" height="37" fill="#d9d9d9"/><rect x="1043" y="1686" width="362" height="37" fill="#d4d4d4"/><rect x="1048" y="1691" width="352" height="28" fill="#ef7d00" stroke="#c86a00"/>
<rect x="1405" y="1686" width="68" height="37" fill="#d9d9d9"/><rect x="1409" y="1692" width="60" height="27" fill="#e9e9e9" stroke="#aaa"/><rect x="1417" y="1697" width="45" height="16" fill="#5e5e5e"/>
<g><rect x="146" y="1697" width="6" height="16" fill="#1f6fa8"/><rect x="576" y="1697" width="6" height="16" fill="#666"/><rect x="1006" y="1697" width="6" height="16" fill="#666"/></g>
<g fill="#ef7d00" stroke="#b85c00"><rect x="121" y="1691" width="25" height="28"/><rect x="152" y="1691" width="25" height="28"/><rect x="551" y="1691" width="25" height="28"/><rect x="582" y="1691" width="25" height="28"/><rect x="981" y="1691" width="25" height="28"/><rect x="1012" y="1691" width="25" height="28"/></g>
<g class="bx"><text x="133.5" y="1710">13</text><text x="164.5" y="1710">14</text><text x="563.5" y="1710">13</text><text x="594.5" y="1710">14</text><text x="993.5" y="1710">13</text><text x="1024.5" y="1710">14</text></g>
<text class="hd" x="49" y="1711" text-anchor="end">Analogové vstupní moduly</text>
<text class="hd" x="363" y="1711" text-anchor="middle" textLength="241" lengthAdjust="spacingAndGlyphs">Analogové výstupní moduly</text>
<text class="hd" x="794" y="1711" text-anchor="middle" textLength="158" lengthAdjust="spacingAndGlyphs">Speciální moduly*</text>
<text class="hd" x="1223" y="1711" text-anchor="middle" textLength="172" lengthAdjust="spacingAndGlyphs">Systémové moduly*</text>

<!-- panel 1 fragments -->
<text class="ph" x="108" y="1750" text-anchor="end">Dvoukanálové analogové vstupní moduly</text>
<text class="ph" x="101" y="1799" text-anchor="end">Čtyřkanálové analogové vstupní moduly</text>
<text class="ps" x="113" y="1844" text-anchor="end">- 0(4) – 20 mA (galvanické oddělení)</text>
<text class="ps" x="25" y="1890" text-anchor="end">- 0 – 1 A, ±(5) A</text>
<text class="ps" x="87" y="1913" text-anchor="end">- 0 – 10 V, diagnostika</text>
<text class="ph" x="93" y="1960" text-anchor="end">Osmikanálové analogové vstupní moduly</text>
<text class="ps" x="34" y="2100" text-anchor="end">- Pt100 (nastavitelný)</text>
<text class="ps" x="82" y="2122" text-anchor="end">- 0 – 10 V, diagnostika</text>
<text class="ph" x="57" y="2146" text-anchor="end">Jiskrově bezpečné I/O moduly Ex i*</text>

<!-- panel 2 -->
<text class="ph" x="200" y="1750" textLength="342" lengthAdjust="spacingAndGlyphs">Dvoukanálové analogové výstupní moduly</text>
<text class="ps" x="198" y="1773" textLength="130" lengthAdjust="spacingAndGlyphs">- 0 – 10 V/±10 V</text>
<text class="ps" x="198" y="1796" textLength="109" lengthAdjust="spacingAndGlyphs">- 0(4) – 20 mA</text>
<text class="ps" x="198" y="1819" textLength="172" lengthAdjust="spacingAndGlyphs">- 12-, 16-bitové rozlišení</text>
<text class="ph" x="200" y="1844" textLength="334" lengthAdjust="spacingAndGlyphs">Čtyřkanálové analogové výstupní moduly</text>
<text class="ps" x="198" y="1867" textLength="130" lengthAdjust="spacingAndGlyphs">- 0 – 10 V/±10 V</text>
<text class="ps" x="198" y="1890" textLength="109" lengthAdjust="spacingAndGlyphs">- 0(4) – 20 mA</text>
<text class="ph" x="200" y="1915" textLength="218" lengthAdjust="spacingAndGlyphs">Analogové speciální funkce</text>
<text class="ps" x="198" y="1938" textLength="75" lengthAdjust="spacingAndGlyphs">- 6 – 18 V</text>
<text class="ps" x="198" y="1960" textLength="223" lengthAdjust="spacingAndGlyphs">- 0 – 10 V, 10 mA, diagnostika</text>
<text class="ph" x="200" y="1985" textLength="288" lengthAdjust="spacingAndGlyphs">Jiskrově bezpečné I/O moduly Ex i*</text>

<!-- panel 3 -->
<text class="ph" x="628" y="1750" textLength="165" lengthAdjust="spacingAndGlyphs">Bezdrátové rozhraní</text>
<text class="ps" x="628" y="1774" textLength="200" lengthAdjust="spacingAndGlyphs">- <tspan font-style="italic">Bluetooth®</tspan> / RF transceiver</text>
<text class="ph" x="628" y="1799" textLength="133" lengthAdjust="spacingAndGlyphs">Sériové rozhraní</text>
<text class="ps" x="628" y="1822" textLength="338" lengthAdjust="spacingAndGlyphs">- Rozhraní RS232C/RS485 (parametrizovatelné)</text>
<text class="ph" x="628" y="1844" textLength="206" lengthAdjust="spacingAndGlyphs">Měření polohy, úhlů, čítač</text>
<text class="ph" x="628" y="1869" textLength="89" lengthAdjust="spacingAndGlyphs">Polohování</text>
<text class="ps" x="628" y="1892" textLength="240" lengthAdjust="spacingAndGlyphs">- Řízení krokového motoru RS-422</text>
<text class="ph" x="628" y="1917" textLength="128" lengthAdjust="spacingAndGlyphs">Kontrola vibrací</text>
<text class="ph" x="628" y="1943" textLength="222" lengthAdjust="spacingAndGlyphs">Prodloužení vnitřní sběrnice</text>
<text class="ph" x="628" y="1969" textLength="134" lengthAdjust="spacingAndGlyphs">DALI/DSI master</text>
<text class="ph" x="628" y="1994" textLength="211" lengthAdjust="spacingAndGlyphs">Rádiový přijímač EnOcean</text>
<text class="ph" x="628" y="2018" textLength="192" lengthAdjust="spacingAndGlyphs">MP-Bus (Multi-Point-Bus)</text>
<text class="ph" x="628" y="2044" textLength="165" lengthAdjust="spacingAndGlyphs">Modul KNX/EIB/TP1</text>
<text class="ph" x="628" y="2070" textLength="157" lengthAdjust="spacingAndGlyphs">AS-Interface master</text>
<text class="ph" x="628" y="2094" textLength="87" lengthAdjust="spacingAndGlyphs">Modul RTC</text>
<text class="ps" x="628" y="2117" textLength="187" lengthAdjust="spacingAndGlyphs">- Rádiový přijímač DCF-77</text>
<text class="ph" x="628" y="2143" textLength="239" lengthAdjust="spacingAndGlyphs">Vzestupný/sestupný čítač Ex i</text>

<!-- panel 4 -->
<text class="ph" x="1060" y="1750" textLength="127" lengthAdjust="spacingAndGlyphs">Filtrační moduly</text>
<text class="ps" x="1060" y="1774" textLength="237" lengthAdjust="spacingAndGlyphs">- Napájení systému a technologie</text>
<text class="ps" x="1060" y="1796" textLength="289" lengthAdjust="spacingAndGlyphs">- Filtr napájecího zdroje DC 24 V (surge)</text>
<text class="ph" x="1060" y="1822" textLength="269" lengthAdjust="spacingAndGlyphs">Moduly pro znásobení potenciálu</text>
<text class="ps" x="1060" y="1844" textLength="71" lengthAdjust="spacingAndGlyphs">- DC 24 V</text>
<text class="ps" x="1060" y="1867" textLength="60" lengthAdjust="spacingAndGlyphs">- DC 0 V</text>
<text class="ph" x="1060" y="1892" textLength="223" lengthAdjust="spacingAndGlyphs">Vizuální oddělovací moduly</text>
<text class="ps" x="1060" y="1915" textLength="163" lengthAdjust="spacingAndGlyphs">- DC 24 V / AC 230 V</text>
<text class="ph" x="1060" y="1940" textLength="176" lengthAdjust="spacingAndGlyphs">Potenciálové napájení</text>
<text class="ps" x="1060" y="1962" textLength="143" lengthAdjust="spacingAndGlyphs">- AC/DC 0 – 230 V</text>
<text class="ps" x="1060" y="1985" textLength="213" lengthAdjust="spacingAndGlyphs">- Jištění/diagnostika (volitelně)</text>
<text class="ps" x="1060" y="2008" textLength="268" lengthAdjust="spacingAndGlyphs">- DC 24 / DC 5 – 15 V (nastavitelné)</text>
<text class="ph" x="1060" y="2034" textLength="288" lengthAdjust="spacingAndGlyphs">Jiskrově bezpečné I/O moduly Ex i*</text>

<!-- module M1 -->
<g transform="translate(115,0)">
<circle cx="15" cy="1742" r="10" fill="#a5d6a7" stroke="#7f9f80"/><circle cx="42" cy="1742" r="10" fill="#bdbdbd" stroke="#8c8c8c"/>
<circle cx="15" cy="1766" r="10" fill="#e30613" stroke="#a00"/><circle cx="42" cy="1766" r="10" fill="#bdbdbd" stroke="#8c8c8c"/>
<text x="53" y="1747" font-size="11" fill="#c8c8c8">C</text><text x="53" y="1771" font-size="11" fill="#c8c8c8">D</text>
<use href="#cs" y="1780" fill="#ffe600"/><use href="#grp" y="1780"/>
<use href="#cs" y="1870" fill="#1e8fd8"/><use href="#grp" y="1870"/>
<use href="#cs" y="1973" fill="#ffe600"/><use href="#grp" y="1973"/>
<use href="#cs" y="2076" fill="#1e8fd8"/><use href="#grp" y="2075"/>
<rect x="-8" y="2002" width="8" height="50" fill="#f39c2c" stroke="#c87a1a"/><rect x="59" y="2002" width="8" height="50" fill="#f39c2c" stroke="#c87a1a"/>
<use href="#mk" x="-14" y="1961"/><use href="#mk" x="54" y="1961"/><use href="#mk" x="-14" y="2064"/><use href="#mk" x="54" y="2064"/>
<text class="ml" x="34" y="2188">750-553</text>
</g>
<!-- module M2 -->
<g transform="translate(545,0)">
<circle cx="15" cy="1742" r="10" fill="#a5d6a7" stroke="#7f9f80"/><circle cx="42" cy="1742" r="10" fill="#a5d6a7" stroke="#7f9f80"/>
<circle cx="15" cy="1766" r="10" fill="#a5d6a7" stroke="#7f9f80"/><circle cx="42" cy="1766" r="10" fill="#a5d6a7" stroke="#7f9f80"/>
<text x="53" y="1747" font-size="11" fill="#c8c8c8">C</text><text x="53" y="1771" font-size="11" fill="#c8c8c8">D</text>
<use href="#cs" y="1780" fill="#ffe600"/><use href="#grp" y="1780"/>
<use href="#cs" y="1870" fill="#e30613"/><use href="#grp" y="1870"/>
<use href="#cs" y="1973" fill="#1e8fd8"/><use href="#grp" y="1973"/>
<use href="#cs" y="2076" fill="#ffe600"/><use href="#grp" y="2075"/>
<rect x="-8" y="2002" width="8" height="50" fill="#f39c2c" stroke="#c87a1a"/><rect x="59" y="2002" width="8" height="50" fill="#f39c2c" stroke="#c87a1a"/>
<use href="#mk" x="-14" y="1961"/><use href="#mk" x="54" y="1961"/><use href="#mk" x="-14" y="2064"/><use href="#mk" x="54" y="2064"/>
<text class="ml" x="34" y="2188">750-643</text>
</g>
<!-- module M3 -->
<g transform="translate(975,0)">
<circle cx="15" cy="1742" r="10" fill="#e30613" stroke="#a00"/><circle cx="42" cy="1742" r="10" fill="#a5d6a7" stroke="#7f9f80"/>
<text x="53" y="1747" font-size="11" fill="#c8c8c8">B</text>
<rect x="3" y="1766" width="62" height="51" fill="#f08a00" stroke="#999"/>
<rect x="10" y="1772" width="48" height="11" fill="none" stroke="#222" stroke-width="1.3"/><line x1="5" y1="1777.5" x2="63" y2="1777.5" stroke="#222" stroke-width="1.3"/>
<text x="34" y="1800" font-size="12" text-anchor="middle" fill="#222">T 6,3 A</text><text x="34" y="1814" font-size="12" text-anchor="middle" fill="#222">250 V</text>
<use href="#cs" y="1820" fill="#e30613"/><use href="#grp" y="1820"/>
<use href="#cs" y="1973" fill="#1e8fd8"/><use href="#grp" y="1973"/>
<use href="#cs" y="2076" fill="#c8b400"/><use href="#grp" y="2075"/>
<rect x="-8" y="2002" width="8" height="50" fill="#f39c2c" stroke="#c87a1a"/><rect x="59" y="2002" width="8" height="50" fill="#f39c2c" stroke="#c87a1a"/>
<use href="#mk" x="-14" y="1961"/><use href="#mk" x="54" y="1961"/><use href="#mk" x="-14" y="2064"/><use href="#mk" x="54" y="2064"/><use href="#mk" x="54" y="2166"/>
<text class="ml" x="34" y="2188">750-601</text>
</g>
<!-- module M4 -->
<g transform="translate(1405,0)">
<circle cx="15" cy="1742" r="10" fill="#bdbdbd" stroke="#8c8c8c"/><circle cx="42" cy="1742" r="10" fill="#bdbdbd" stroke="#8c8c8c"/>
<circle cx="15" cy="1766" r="10" fill="#bdbdbd" stroke="#8c8c8c"/><circle cx="42" cy="1766" r="10" fill="#bdbdbd" stroke="#8c8c8c"/>
<text x="53" y="1747" font-size="11" fill="#c8c8c8">C</text><text x="53" y="1771" font-size="11" fill="#c8c8c8">D</text>
<use href="#cs" y="1780" fill="#f7f7f7"/><use href="#grp" y="1780"/>
<use href="#cs" y="1870" fill="#f7f7f7"/><use href="#grp" y="1870"/>
<use href="#cs" y="1973" fill="#f7f7f7"/><use href="#grp" y="1973"/>
<use href="#cs" y="2076" fill="#f7f7f7"/><use href="#grp" y="2075"/>
<rect x="-8" y="2002" width="8" height="50" fill="#f4f4f4" stroke="#bbb"/><rect x="59" y="2002" width="8" height="50" fill="#f39c2c" stroke="#c87a1a"/>
<use href="#mk" x="-14" y="1961"/><use href="#mk" x="-14" y="2064"/>
<text class="ml" x="34" y="2188">750-600</text>
</g>
</svg>
</body></html>
